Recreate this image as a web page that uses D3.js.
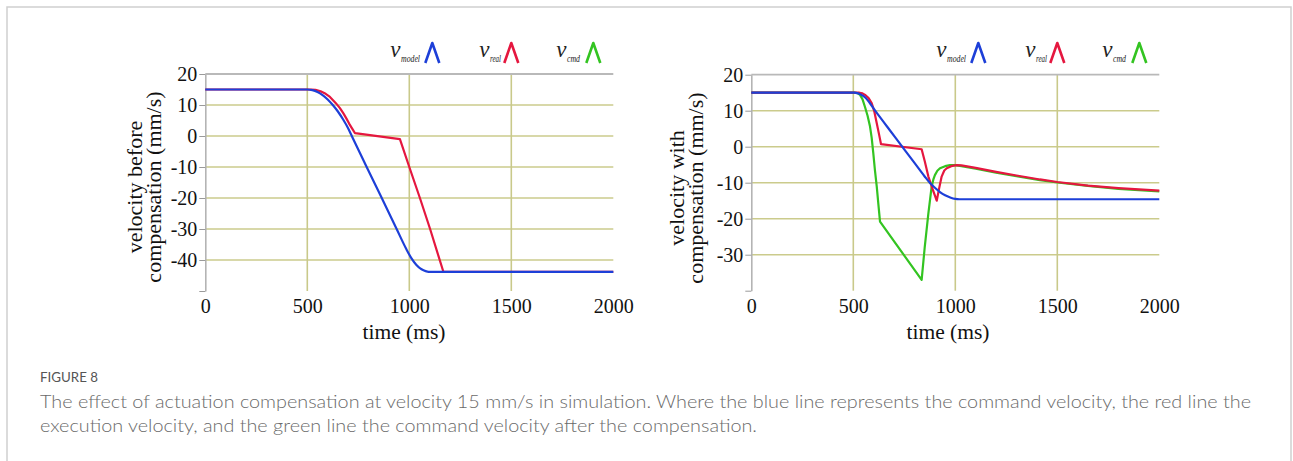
<!DOCTYPE html>
<html lang="en">
<head>
<meta charset="UTF-8">
<title>Figure 8</title>
<script src="https://d3js.org/d3.v7.min.js"></script>
<style>
  body { margin: 0; background: #fff; }
  svg { display: block; }
  .tick text { font-family: "Liberation Serif", "Times New Roman", serif; font-size: 20px; fill: #111; }
</style>
</head>
<body>
<script>
// time axis (ms) and tick labels
var timeTicks = [0, 500, 1000, 1500, 2000];
var gridTimes = [500, 1000, 1500];
var leftYTicks = [20, 10, 0, -10, -20, -30, -40, -50];
var rightYTicks = [20, 10, 0, -10, -20, -30, -40];

// left panel: velocity before compensation  [time ms, velocity mm/s]
var leftModel = [[0,15],[500,15],[525,14.8],[550,14.2],[575,13.2],[600,11.8],[625,10.0],[650,7.9],[675,5.4],[700,2.5],
  [718,0],[791,-10],[865,-20],[938,-30],[984,-36.3],[1010,-39.4],[1035,-41.6],[1060,-43.0],[1080,-43.6],[1095,-43.8],[2000,-43.8]];
var leftReal = [[0,15],[520,15],[540,14.9],[565,14.4],[590,13.6],[611,12.6],[640,10.6],[660,9.0],[677,7.3],[692,5.6],
  [705,4.0],[720,2.4],[734,0.9],[954,-1.0],[1000,-10],[1052,-20],[1102,-30],[1167,-43.8],[2000,-43.8]];

// right panel: velocity with compensation
var rightModel = [[0,15],[505,15],[520,14.9],[540,14.4],[560,13.6],[580,12.2],[600,10.6],[640,7.5],[680,4.5],[745,-0.4],
  [800,-4.5],[849,-8.2],[876,-10.1],[900,-11.4],[925,-12.6],[950,-13.5],[975,-14.1],[1000,-14.5],[1020,-14.6],[2000,-14.6]];
var rightReal = [[0,15],[530,15],[545,14.8],[560,14.3],[575,13.5],[590,12.1],[603,9.8],[615,6.5],[626,3.5],[636,0.7],
  [835,-0.7],[850,-4],[868,-8.3],[890,-12],[909,-15],[921,-11.5],[933,-8.3],[946,-6.6],[958,-6.0],[980,-5.4],
  [1007,-5.1],[1030,-5.2],[1100,-5.9],[1200,-7.0],[1300,-8.0],[1415,-9.1],[1500,-9.8],[1650,-10.8],[1800,-11.5],[2000,-12.2]];
var rightCmd = [[0,15],[505,15],[520,14.9],[533,14.4],[545,13.2],[557,11.1],[570,8.6],[582,5.6],[590,2.5],[598,-1.8],
  [606,-6.5],[615,-11.1],[623,-16],[631,-20.8],[835,-37],[850,-28],[868,-18.5],[884,-11.1],[893,-9.0],[900,-7.9],
  [912,-6.7],[925,-6.0],[950,-5.4],[974,-5.1],[1000,-5.1],[1030,-5.4],[1100,-6.1],[1200,-7.2],[1300,-8.2],
  [1415,-9.3],[1500,-9.95],[1650,-10.9],[1800,-11.7],[2000,-12.4]];

var legendNames = ["model", "real", "cmd"];
var subWidths = { model: 19, real: 11, cmd: 13 };
var colors = { model: "#1d3fd8", real: "#e5173f", cmd: "#33c421" };

var W = 1293, H = 461;
var svg = d3.select("body").append("svg").attr("width", W).attr("height", H);

// outer frame
svg.append("rect").attr("x", 7).attr("y", 7).attr("width", 1284).attr("height", 470)
  .attr("fill", "none").attr("stroke", "#cfcfcf").attr("stroke-width", 1.5);

var panels = [
  { x0: 205.3, x1: 613.3, yTop: 74, yBot: 291, yMin: -50, yTicks: leftYTicks,
    title: ["velocity before", "compensation (mm/s)"], titleX: [142, 161], titleY: 187, timeX: 404,
    series: [["real", leftReal], ["model", leftModel]] },
  { x0: 751.3, x1: 1159.3, yTop: 74.7, yBot: 290.7, yMin: -40, yTicks: rightYTicks,
    title: ["velocity with", "compensation (mm/s)"], titleX: [684, 703], titleY: 188, timeX: 948,
    series: [["cmd", rightCmd], ["real", rightReal], ["model", rightModel]] }
];

panels.forEach(function(p) {
  var x = d3.scaleLinear().domain([0, 2000]).range([p.x0, p.x1]);
  var y = d3.scaleLinear().domain([p.yMin, 20]).range([p.yBot, p.yTop]);
  var g = svg.append("g");

  // horizontal grid
  g.selectAll(".hgrid").data(p.yTicks.filter(function(d) { return d < 20 && d > p.yMin; }))
    .enter().append("line")
    .attr("x1", x(0)).attr("x2", x(2000))
    .attr("y1", function(d) { return y(d); }).attr("y2", function(d) { return y(d); })
    .attr("stroke", "#cbcb8c").attr("stroke-width", 1.6);
  // vertical grid
  g.selectAll(".vgrid").data(gridTimes).enter().append("line")
    .attr("x1", function(d) { return x(d); }).attr("x2", function(d) { return x(d); })
    .attr("y1", y(20)).attr("y2", y(p.yMin))
    .attr("stroke", "#c9c98a").attr("stroke-width", 1.6);
  // top border
  g.append("line").attr("x1", x(0)).attr("x2", x(2000)).attr("y1", y(20)).attr("y2", y(20))
    .attr("stroke", "#b9b9b9").attr("stroke-width", 1.8);

  // y axis
  var yAxis = g.append("g").attr("transform", "translate(" + x(0) + ",0)")
    .call(d3.axisLeft(y).tickValues(p.yTicks).tickSize(6).tickSizeOuter(0).tickPadding(2)
      .tickFormat(function(d) { return d === p.yMin ? "" : String(d); }));
  yAxis.select(".domain").attr("stroke", "#b4b4b4").attr("stroke-width", 1.6);
  yAxis.selectAll(".tick line").attr("stroke", "#9a9a9a");

  // x axis labels
  var xAxis = g.append("g").attr("transform", "translate(0," + y(p.yMin) + ")")
    .call(d3.axisBottom(x).tickValues(timeTicks).tickSize(0).tickPadding(8)
      .tickFormat(function(d) { return String(d); }));
  xAxis.select(".domain").remove();

  // axis titles
  svg.append("text").attr("x", p.timeX).attr("y", 339).attr("text-anchor", "middle")
    .style("font-family", "'Liberation Serif', serif").style("font-size", "21.5px").attr("fill", "#111")
    .text("time (ms)");
  p.title.forEach(function(t, i) {
    svg.append("text")
      .attr("transform", "translate(" + p.titleX[i] + "," + p.titleY + ") rotate(-90)")
      .attr("text-anchor", "middle")
      .style("font-family", "'Liberation Serif', serif").style("font-size", "22px").attr("fill", "#111")
      .text(t);
  });

  // series
  var line = d3.line().x(function(d) { return x(d[0]); }).y(function(d) { return y(d[1]); });
  p.series.forEach(function(s) {
    var path = s[0] === "model" ? line.curve(d3.curveMonotoneX) : line.curve(d3.curveLinear);
    g.append("path").datum(s[1]).attr("d", path)
      .attr("fill", "none").attr("stroke", colors[s[0]]).attr("stroke-width", 2.2)
      .attr("stroke-linejoin", "round");
  });

  // legend
  var vOff = [185, 274, 351], chOff = [220, 299, 381];
  legendNames.forEach(function(n, i) {
    var t = svg.append("text").attr("x", p.x0 + vOff[i]).attr("y", 57)
      .style("font-family", "'Liberation Serif', serif").style("font-style", "italic").attr("fill", "#222");
    t.append("tspan").style("font-size", "23px").text("v");
    t.append("tspan").attr("dy", 5).attr("dx", 0.5).style("font-size", "9.5px")
      .attr("textLength", subWidths[n]).attr("lengthAdjust", "spacingAndGlyphs").text(n);
    var cx = p.x0 + chOff[i];
    svg.append("path").attr("d", "M" + cx + ",63 L" + (cx + 7) + ",43 L" + (cx + 14) + ",63")
      .attr("fill", "none").attr("stroke", colors[n]).attr("stroke-width", 2.6).attr("stroke-linejoin", "round");
  });
});

// caption
svg.append("text").attr("x", 40).attr("y", 382)
  .attr("textLength", 58).attr("lengthAdjust", "spacingAndGlyphs")
  .style("font-family", "Lato, 'Open Sans', sans-serif").style("font-size", "12.5px").attr("fill", "#555")
  .text("FIGURE 8");
var captionLines = [
  "The effect of actuation compensation at velocity 15 mm/s in simulation. Where the blue line represents the command velocity, the red line the",
  "execution velocity, and the green line the command velocity after the compensation."
];
var captionWidths = [1211, 717];
captionLines.forEach(function(t, i) {
  svg.append("text").attr("x", 40).attr("y", 408 + i * 24)
    .attr("textLength", captionWidths[i]).attr("lengthAdjust", "spacingAndGlyphs")
    .style("font-family", "Lato, 'Open Sans', sans-serif").style("font-size", "17px")
    .style("font-weight", 300).attr("fill", "#6a6a6a")
    .text(t);
});
</script>
</body>
</html>
